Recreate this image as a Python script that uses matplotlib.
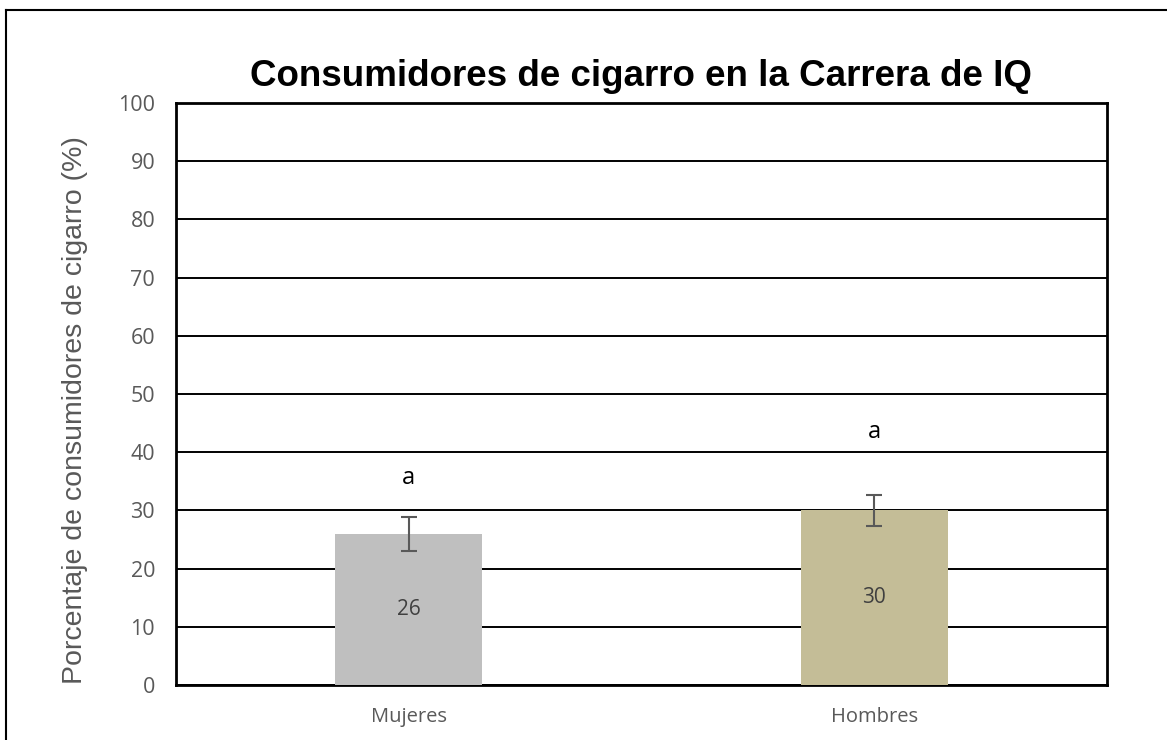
import matplotlib.pyplot as plt
from matplotlib.lines import Line2D

# Datos: porcentaje de consumidores de cigarro por sexo
categorias = ['Mujeres', 'Hombres']
porcentajes = [26, 30]
errores = [2.9, 2.7]
letras = ['a', 'a']
altura_letras = [35.5, 43.5]
colores = ['#BFBFBF', '#C4BD97']

fig = plt.figure(figsize=(11.67, 7.4), dpi=100)
ax = fig.add_axes([176 / 1167, 1 - 685 / 740, 931 / 1167, 582 / 740])

x = range(len(categorias))
ax.bar(x, porcentajes, width=0.316, color=colores, zorder=3)
ax.errorbar(x, porcentajes, yerr=errores, fmt='none', ecolor='#595959',
            elinewidth=1.5, capsize=6, capthick=1.5, zorder=4)

# Valor dentro de cada barra y letra de significancia encima
for i, v in enumerate(porcentajes):
    ax.text(i, v / 2, str(v), ha='center', va='center', fontsize=15,
            color='#404040', family='Open Sans', zorder=5)
    ax.text(i, altura_letras[i], letras[i], ha='center', va='center',
            fontsize=17, color='black', family='Open Sans')

ax.set_xlim(-0.5, 1.5)
ax.set_ylim(0, 100)
ax.set_yticks(range(0, 101, 10))
ax.set_xticks(list(x))
ax.set_xticklabels(categorias)
ax.yaxis.grid(True, color='black', linewidth=1.4, zorder=0)
ax.set_axisbelow(True)
ax.tick_params(length=0, labelcolor='#595959')
ax.tick_params(axis='y', pad=15, labelsize=15.5)
ax.tick_params(axis='x', pad=16, labelsize=14.5)
for lbl in ax.get_xticklabels() + ax.get_yticklabels():
    lbl.set_family('Open Sans')
for s in ax.spines.values():
    s.set_linewidth(2)
    s.set_color('black')

ax.set_ylabel('Porcentaje de consumidores de cigarro (%)', fontsize=20.5,
              color='#595959', family='Liberation Sans')
ax.yaxis.set_label_coords(-0.095, 0.472)
fig.text(641 / 1167, 1 - 76 / 740, 'Consumidores de cigarro en la Carrera de IQ',
         ha='center', va='center', fontsize=26.5, fontweight='bold',
         family='Liberation Sans')

# Marco exterior del gráfico
fig.add_artist(Line2D([6 / 1167, 6 / 1167], [0, 1 - 10 / 740], color='black',
                      linewidth=1.5, transform=fig.transFigure))
fig.add_artist(Line2D([6 / 1167, 1], [1 - 10 / 740, 1 - 10 / 740], color='black',
                      linewidth=1.5, transform=fig.transFigure))

fig.savefig('out.png', dpi=100)
